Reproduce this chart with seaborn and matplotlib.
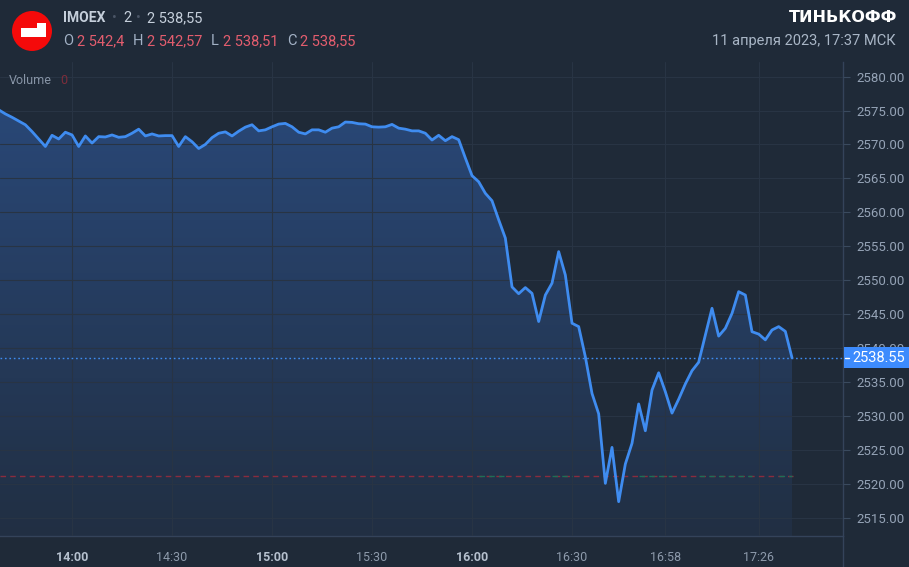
import numpy as np
import pandas as pd
import matplotlib
matplotlib.use("Agg")
import matplotlib.pyplot as plt
import seaborn as sns
from matplotlib.patches import Polygon, Rectangle, Circle
from matplotlib.lines import Line2D
from matplotlib.colors import LinearSegmentedColormap

# ---------------- data ----------------
ticker = "IMOEX"
interval_label = "2"
start_time = "13:38"
interval_min = 2
close_values = [
    2575.1, 2574.5, 2574.0, 2573.45, 2572.9, 2571.9, 2570.8, 2569.7, 2571.35, 2570.8,
    2571.8, 2571.4, 2569.7, 2571.25, 2570.2, 2571.15, 2571.1, 2571.4, 2571.05, 2571.15,
    2571.65, 2572.25, 2571.25, 2571.55, 2571.25, 2571.3, 2571.3, 2569.7, 2571.15, 2570.4,
    2569.4, 2570.0, 2571.0, 2571.65, 2571.85, 2571.25, 2571.95, 2572.55, 2572.9, 2572.0,
    2572.15, 2572.6, 2573.0, 2573.1, 2572.6, 2571.8, 2571.55, 2572.15, 2572.15, 2571.8,
    2572.4, 2572.6, 2573.3, 2573.25, 2573.05, 2573.0, 2572.6, 2572.55, 2572.6, 2572.95,
    2572.4, 2572.25, 2572.0, 2572.0, 2571.65, 2570.65, 2571.35, 2570.55, 2571.15, 2570.7,
    2568.0, 2565.4, 2564.5, 2562.8, 2561.7, 2558.9, 2556.2, 2549.0, 2548.0, 2548.9,
    2548.05, 2543.9, 2547.8, 2549.55, 2554.2, 2550.75, 2543.65, 2543.15, 2538.7, 2533.3,
    2530.3, 2520.05, 2525.35, 2517.35, 2522.9, 2525.95, 2531.75, 2527.8, 2533.8, 2536.35,
    2533.55, 2530.4, 2532.45, 2534.7, 2536.65, 2537.9, 2541.9, 2545.85, 2541.75, 2542.9,
    2545.1, 2548.3, 2547.8, 2542.4, 2542.05, 2541.2, 2542.65, 2543.15, 2542.45, 2538.55,
]
last_price = 2538.55
ref_price = 2521.13
ohlc_letters = ["O", "H", "L", "C"]
ohlc_values = ["2 542,4", "2 542,57", "2 538,51", "2 538,55"]
last_price_text = "2 538,55"
y_ticks = [2515, 2520, 2525, 2530, 2535, 2540, 2545, 2550, 2555, 2560, 2565, 2570, 2575, 2580]
x_tick_labels = ["14:00", "14:30", "15:00", "15:30", "16:00", "16:30", "16:58", "17:26"]
bold_tick_labels = ["14:00", "15:00", "16:00"]
brand = "ТИНЬКОФФ"
date_text = "11 апреля 2023, 17:37 МСК"
volume_label = "Volume"
volume_value = "0"


def to_min(s):
    h, m = s.split(":")
    return int(h) * 60 + int(m)


t0 = to_min(start_time)
minutes = t0 + interval_min * np.arange(len(close_values))
df = pd.DataFrame({"t": minutes, "close": close_values})
tick_pos = [to_min(s) for s in x_tick_labels]

# ---------------- figure ----------------
W, H = 909, 567
BG = "#1f2a38"
sns.set_theme(style="dark")
plt.rcParams["font.family"] = ["Roboto", "DejaVu Sans"]

fig = plt.figure(figsize=(W / 100, H / 100), dpi=100)
fig.patch.set_facecolor(BG)


def fx(x):
    return x / W


def fy(y):
    return 1 - y / H


ax = fig.add_axes([0, fy(536), 843 / W, (536 - 62) / H])
ax.set_facecolor(BG)

xmin = t0 + 0.39
xmax = t0 + 253.3
ymin, ymax = 2512.29, 2582.15

# gradient fill under line
verts = [(minutes[0], ymin)] + list(zip(minutes, close_values)) + [(minutes[-1], ymin)]
poly = Polygon(verts, closed=True, facecolor="none", edgecolor="none")
ax.add_patch(poly)
cmap = LinearSegmentedColormap.from_list("g", ["#212f43", "#2a4a7c"])
grad = np.linspace(0, 1, 256).reshape(-1, 1)
im = ax.imshow(grad, extent=[minutes[0], minutes[-1], ymin, ymax], origin="lower",
               cmap=cmap, aspect="auto", zorder=2)
im.set_clip_path(poly)

# reference (dashed red/green) line
ax.hlines(ref_price, xmin, minutes[-1] + 1, colors="#8a2c3e", linestyles=(0, (4, 3)), lw=1, zorder=3)
for a, b in [("16:02", "16:10"), ("16:24", "16:30"), ("16:50", "17:00"), ("17:08", "17:24"), ("17:32", "17:36")]:
    ax.hlines(ref_price, to_min(a), to_min(b), colors="#1f6e55", linestyles=(0, (4, 3)), lw=1, zorder=3)

# last-price dotted line
ax.axhline(last_price, color="#3f8cf0", ls=(0, (1.2, 2)), lw=1, zorder=3)

# main line
sns.lineplot(data=df, x="t", y="close", ax=ax, color="#3f8cf0", lw=2, zorder=4)

ax.set_xlim(xmin, xmax)
ax.set_ylim(ymin, ymax)
ax.set_xlabel("")
ax.set_ylabel("")

# grid
ax.set_axisbelow(False)
ax.set_yticks(y_ticks)
ax.set_yticklabels([f"{v:.2f}" for v in y_ticks])
ax.set_xticks(tick_pos)
ax.set_xticklabels(x_tick_labels)
ax.grid(True, color="#283444", lw=0.8)
ax.yaxis.tick_right()
ax.tick_params(axis="y", length=5, width=0.8, color="#3a4a5e", pad=5,
               labelsize=9.5, labelcolor="#95a3b6")
ax.tick_params(axis="x", length=4, width=0.8, color="#3a4a5e", pad=7,
               labelsize=9, labelcolor="#8d9aab")
for lab in ax.get_xticklabels():
    if lab.get_text() in bold_tick_labels:
        lab.set_fontweight("bold")
        lab.set_color("#b5c0ce")

for s in ["top", "left"]:
    ax.spines[s].set_visible(False)
for s in ["right", "bottom"]:
    ax.spines[s].set_color("#34435a")
    ax.spines[s].set_linewidth(1)

# axis divider extended down
fig.add_artist(Line2D([fx(843), fx(843)], [fy(536), 0], color="#34435a", lw=1))

# last price label
fig.add_artist(Rectangle((fx(844), fy(368)), (W - 844) / W, 21 / H, facecolor="#3d8bfd",
                         edgecolor="none", transform=fig.transFigure, zorder=5))
fig.add_artist(Line2D([fx(845), fx(849)], [fy(357.5), fy(357.5)], color="white", lw=1, zorder=6))
fig.text(fx(852), fy(357.5), f"{last_price:.2f}", color="white", fontsize=10.5,
         va="center", ha="left", zorder=6)

# ---------------- header ----------------
fig.add_artist(Circle((32 / 100, (H - 31) / 100), 0.20, transform=fig.dpi_scale_trans,
                      facecolor="#f50a0a", edgecolor="none"))
logo = [(21, 28), (37, 28), (37, 23), (46, 23), (46, 37), (21, 37)]
fig.add_artist(Polygon([(fx(x), fy(y)) for x, y in logo], closed=True,
                       transform=fig.transFigure, facecolor="white", edgecolor="none"))

fig.text(fx(63), fy(18), ticker, color="#c5cfdb", fontsize=10, fontweight="bold", va="center")
fig.text(fx(112), fy(18), "•", color="#4a5566", fontsize=10, va="center")
fig.text(fx(123), fy(18), interval_label, color="#c5cfdb", fontsize=10.5, va="center")
fig.text(fx(136), fy(18), "•", color="#4a5566", fontsize=10, va="center")
fig.text(fx(147), fy(18), last_price_text, color="#c5cfdb", fontsize=10.5, va="center")

xs_letters = [63, 133, 211, 287]
xs_vals = [77, 147, 223, 300]
for l, v, xl, xv in zip(ohlc_letters, ohlc_values, xs_letters, xs_vals):
    fig.text(fx(xl), fy(41), l, color="#a3b2c6", fontsize=10.5, va="center")
    fig.text(fx(xv), fy(41), v, color="#e35d6e", fontsize=10.5, va="center")

fig.text(fx(9), fy(80), volume_label, color="#8794a6", fontsize=9, va="center")
fig.text(fx(60), fy(80), volume_value, color="#7d2d3b", fontsize=9, va="center")

fig.text(fx(897), fy(18), brand, color="white", fontsize=11.5, fontweight="heavy",
         family=["DejaVu Sans"], ha="right", va="center")
fig.text(fx(896), fy(41), date_text, color="#a9b6c6", fontsize=10.5, ha="right", va="center")

fig.savefig("out.png", dpi=100, facecolor=BG)
